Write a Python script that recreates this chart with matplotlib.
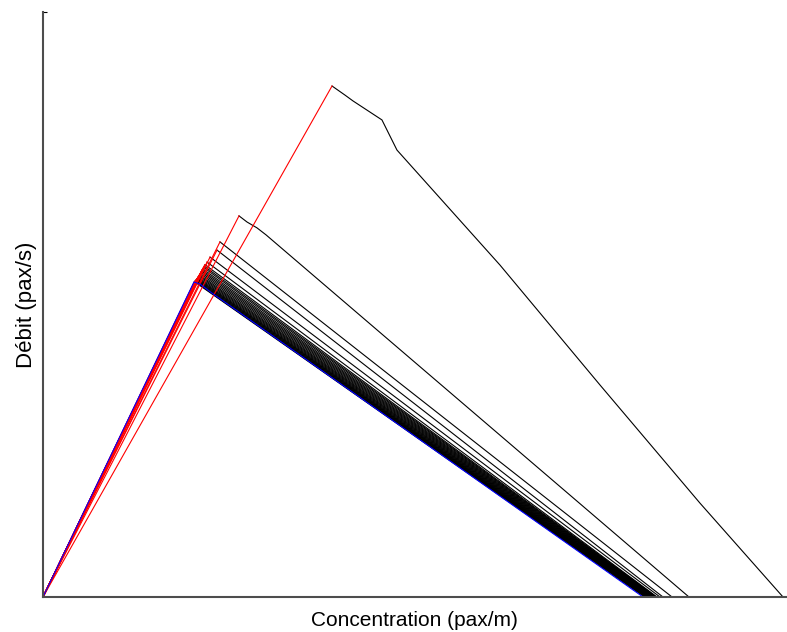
import matplotlib.pyplot as plt

# Diagramme fondamental : chaque courbe = montée (rouge) jusqu'au pic, puis descente (noir)

# Grandes courbes isolées : points de la branche descendante (concentration, débit)
curve_a_x = [1.945, 2.032, 2.086, 2.281, 2.382, 3.075, 3.748, 4.421, 4.980]
curve_a_y = [1.747, 1.716, 1.696, 1.631, 1.528, 1.135, 0.725, 0.321, 0.0]

curve_b_x = [1.319, 1.373, 1.440, 1.501, 4.347]
curve_b_y = [1.303, 1.282, 1.262, 1.238, 0.0]

# Faisceau de courbes : pic (x, y) et concentration où le débit s'annule
peak_x = [1.191, 1.171, 1.124, 1.104, 1.090, 1.085, 1.080, 1.075, 1.070, 1.066,
          1.062, 1.058, 1.054, 1.050, 1.046, 1.042, 1.039, 1.036, 1.033, 1.030,
          1.027, 1.024, 1.021, 1.019]
peak_y = [1.214, 1.186, 1.162, 1.145, 1.136, 1.131, 1.127, 1.122, 1.118, 1.114,
          1.110, 1.106, 1.102, 1.099, 1.096, 1.093, 1.090, 1.088, 1.086, 1.084,
          1.082, 1.080, 1.079, 1.078]
end_x = [4.233, 4.172, 4.152, 4.132, 4.128, 4.124, 4.120, 4.116, 4.112, 4.108,
         4.104, 4.100, 4.096, 4.092, 4.088, 4.084, 4.080, 4.076, 4.072, 4.068,
         4.064, 4.060, 4.054, 4.048]

# Courbe bleue (la plus basse)
blue_x = [0.0, 1.016, 1.056, 1.137, 4.038]
blue_y = [0.0, 1.077, 1.070, 1.039, 0.0]

fig = plt.figure(figsize=(7.87, 6.32), dpi=100)
ax = fig.add_axes([43 / 787, 35 / 632, 743 / 787, 585 / 632])

lw = 0.8
for px, py, ex in zip(peak_x, peak_y, end_x):
    ax.plot([px, ex], [py, 0.0], color="black", lw=lw)
ax.plot(curve_b_x, curve_b_y, color="black", lw=lw)
ax.plot(curve_a_x, curve_a_y, color="black", lw=lw)

# montées en rouge
for px, py in zip(peak_x, peak_y):
    ax.plot([0.0, px], [0.0, py], color="red", lw=lw)
ax.plot([0.0, curve_b_x[0]], [0.0, curve_b_y[0]], color="red", lw=lw)
ax.plot([0.0, curve_a_x[0]], [0.0, curve_a_y[0]], color="red", lw=lw)

ax.plot(blue_x, blue_y, color="blue", lw=lw)

ax.set_xlim(0, 5.0)
ax.set_ylim(0, 2.0)
ax.spines["top"].set_visible(False)
ax.spines["right"].set_visible(False)
for s in ["left", "bottom"]:
    ax.spines[s].set_color("#4d4d4d")
    ax.spines[s].set_linewidth(1.5)
ax.set_xticks([])
ax.set_yticks([2.0])
ax.set_yticklabels([])
ax.tick_params(axis="y", direction="in", length=3, color="black")

ax.set_xlabel("Concentration (pax/m)", fontsize=15, family="Liberation Sans", labelpad=10)
ax.set_ylabel("Débit (pax/s)", fontsize=16, family="Liberation Sans", labelpad=1)

fig.savefig("out.png", dpi=100)
